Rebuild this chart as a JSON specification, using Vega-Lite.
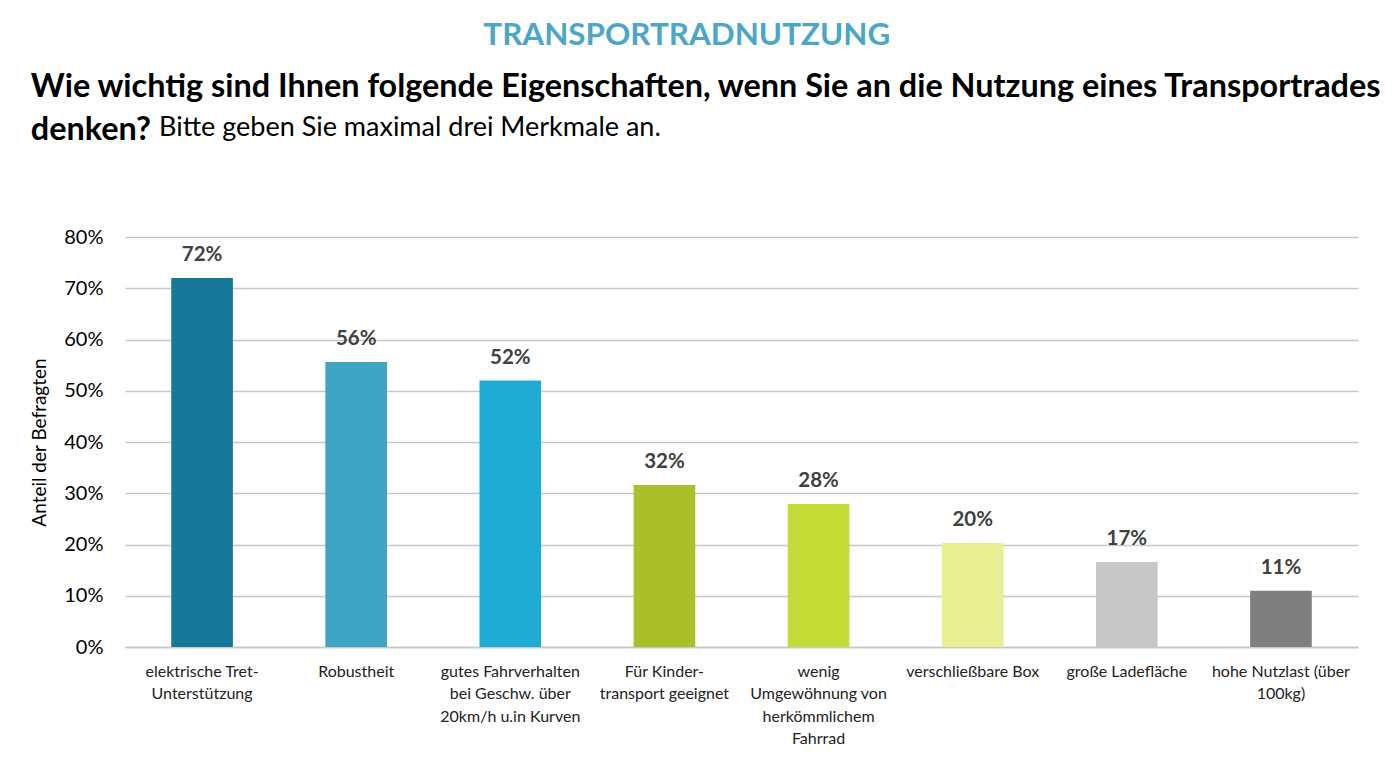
{
  "$schema": "https://vega.github.io/schema/vega-lite/v6.json",
  "background": "white",
  "padding": {"left": 30, "top": 20, "right": 10, "bottom": 5},
  "config": {
    "font": "Lato",
    "view": {"stroke": null},
    "concat": {"spacing": 0}
  },
  "title": {
    "text": "TRANSPORTRADNUTZUNG",
    "anchor": "middle",
    "dx": -20,
    "fontSize": 31.4,
    "fontWeight": "bold",
    "color": "#4BA6C8",
    "offset": 19
  },
  "vconcat": [
    {
      "width": 1233,
      "height": 410,
      "title": {
        "text": ["Wie wichtig sind Ihnen folgende Eigenschaften, wenn Sie an die Nutzung eines Transportrades", "denken?"],
        "subtitle": "\u200b\u2003\u2003\u2003\u2003\u2003\u2003\u2005Bitte geben Sie maximal drei Merkmale an.",
        "anchor": "start",
        "frame": "bounds",
        "fontSize": 32.4,
        "lineHeight": 43,
        "fontWeight": "bold",
        "color": "black",
        "subtitleFontSize": 27,
        "subtitleColor": "black",
        "subtitlePadding": -31,
        "offset": 81
      },
      "data": {
        "values": [
          {"merkmal": "elektrische Tret-\nUnterstützung", "anteil": 0.72},
          {"merkmal": "Robustheit", "anteil": 0.556},
          {"merkmal": "gutes Fahrverhalten\nbei Geschw. über\n20km/h u.in Kurven", "anteil": 0.52},
          {"merkmal": "Für Kinder-\ntransport geeignet", "anteil": 0.316},
          {"merkmal": "wenig\nUmgewöhnung von\nherkömmlichem\nFahrrad", "anteil": 0.279},
          {"merkmal": "verschließbare Box", "anteil": 0.203},
          {"merkmal": "große Ladefläche", "anteil": 0.166},
          {"merkmal": "hohe Nutzlast (über\n100kg)", "anteil": 0.11}
        ]
      },
      "encoding": {
        "x": {
          "field": "merkmal",
          "type": "nominal",
          "sort": null,
          "title": null,
          "scale": {"paddingInner": 0.6, "paddingOuter": 0.3},
          "axis": {
            "labelAngle": 0,
            "labelExpr": "split(datum.label, '\\n')",
            "labelFontSize": 16,
            "labelColor": "#222222",
            "labelLineHeight": 22.5,
            "labelPadding": 16,
            "labelBaseline": "top",
            "ticks": false,
            "domainColor": "#C8C8C8",
            "domainWidth": 1.5
          }
        },
        "y": {
          "field": "anteil",
          "type": "quantitative",
          "scale": {"domain": [0, 0.8]},
          "title": "Anteil der Befragten",
          "axis": {
            "format": ".0%",
            "values": [0, 0.1, 0.2, 0.3, 0.4, 0.5, 0.6, 0.7, 0.8],
            "domain": false,
            "ticks": false,
            "labelFontSize": 20,
            "labelColor": "black",
            "labelPadding": 22,
            "titleFontSize": 19,
            "titleFontWeight": "normal",
            "titleColor": "black",
            "titlePadding": 14,
            "gridColor": "#C8C8C8",
            "gridWidth": 1.3
          }
        }
      },
      "layer": [
        {
          "mark": {"type": "bar"},
          "encoding": {
            "color": {
              "field": "merkmal",
              "type": "nominal",
              "sort": null,
              "legend": null,
              "scale": {
                "range": ["#17799A", "#40A4C4", "#20ABD4", "#AABF2A", "#C4DB36", "#E8F093", "#C8C8C8", "#7F7F7F"]
              }
            }
          }
        },
        {
          "mark": {
            "type": "text",
            "baseline": "bottom",
            "dy": -13,
            "fontSize": 20.5,
            "fontWeight": "bold",
            "color": "#404040"
          },
          "encoding": {
            "text": {"field": "anteil", "type": "quantitative", "format": ".0%"}
          }
        }
      ]
    }
  ]
}
